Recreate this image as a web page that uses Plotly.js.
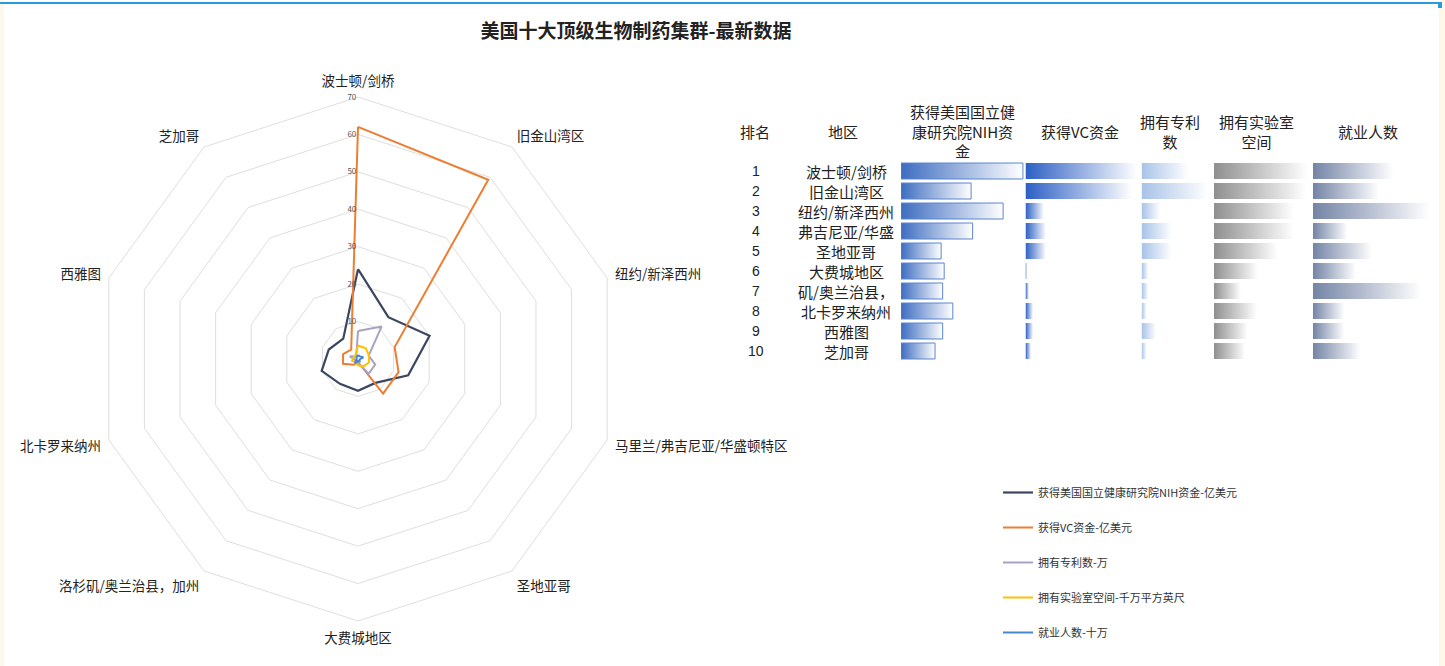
<!DOCTYPE html>
<html><head><meta charset="utf-8">
<script src="https://cdn.plot.ly/plotly-3.0.1.min.js"></script>
<style>html,body{margin:0;padding:0;background:#fff;} #chart{width:1445px;height:666px;}</style>
</head><body><div id="chart"></div>
<script>
// ---------- data ----------
const regions = ['波士顿/剑桥','旧金山湾区','纽约/新泽西州','马里兰/弗吉尼亚/华盛顿特区','圣地亚哥','大费城地区','洛杉矶/奥兰治县，加州','北卡罗来纳州','西雅图','芝加哥'];
const tableNames = ['波士顿/剑桥','旧金山湾区','纽约/新泽西州','弗吉尼亚/华盛','圣地亚哥','大费城地区','矶/奥兰治县，','北卡罗来纳州','西雅图','芝加哥'];
const ranks = [1,2,3,4,5,6,7,8,9,10];
const nihFunding = [24, 13.8, 20.1, 14.1, 7.9, 8.5, 8.2, 10.2, 8.2, 6.7];
const vcFunding  = [62, 59.2, 10.3, 11.4, 11.4, 0.8, 1.9, 4.2, 4.2, 3.1];
const patents    = [7.5, 10.7, 3.0, 4.85, 4.85, 1.1, 1.1, 0.8, 2.3, 0.8];
const labSpace   = [3.6, 3.54, 3.07, 3.07, 2.45, 1.69, 1.03, 1.65, 1.29, 1.19];
const employment = [1.03, 0.85, 1.5, 0.44, 0.76, 0.55, 1.39, 0.40, 0.40, 0.61];
const seriesNames = ['获得美国国立健康研究院NIH资金-亿美元','获得VC资金-亿美元','拥有专利数-万','拥有实验室空间-千万平方英尺','就业人数-十万'];
const tableHeaders = ['排名','地区','获得美国国立健<br>康研究院NIH资<br>金','获得VC资金','拥有专利<br>数','拥有实验室<br>空间','就业人数'];
const radialTicks = [10,20,30,40,50,60,70];
const chartTitle = '美国十大顶级生物制药集群-最新数据';

// ---------- styles ----------
const W = 1445, H = 666;
const px = v => v / W, py = v => 1 - v / H;
const FONT = '"Noto Sans CJK SC", "Noto Sans", sans-serif';
const lineColors = ['#3b4660','#ed7d31','#a8a2c4','#ffc000','#4a86d0'];
const allSeries = [nihFunding, vcFunding, patents, labSpace, employment];

const traces = [];
allSeries.forEach((vals, k) => {
  traces.push({
    type:'scatterpolar', mode:'lines', subplot:'polar',
    r: vals.concat([vals[0]]), theta: regions.concat([regions[0]]),
    name: seriesNames[k], legendgroup:'g'+k,
    line:{color: lineColors[k], width: k===0 ? 2.2 : 2},
    hoverinfo:'skip'
  });
});

// table columns: start px, px per unit, gradient colour, border
const cols = [
  {start:901,  end:1024, ppu:5.08,  color:'#3d6cc0', border:'#5a86cf'},
  {start:1025.5, end:1138, ppu:1.8,   color:'#2c5fc4', border:null},
  {start:1141.6, end:1210, ppu:6.19,  color:'#a7c2e8', border:null},
  {start:1214, end:1309, ppu:25.97, color:'#8f8f8f', border:null},
  {start:1313, end:1432, ppu:77.8,  color:'#7484a6', border:null}
];
allSeries.forEach((vals, c) => {
  const ax = c===0 ? 'x' : 'x'+(c+1);
  vals.forEach((v, i) => {
    const r = ranks[i];
    traces.push({
      type:'scatter', xaxis: ax, yaxis:'y',
      x:[0, v, v, 0, 0], y:[r-0.4, r-0.4, r+0.4, r+0.4, r-0.4],
      fill:'toself', mode: cols[c].border ? 'lines' : 'none',
      line:{width:1, color: cols[c].border || 'rgba(0,0,0,0)'},
      fillgradient:{type:'horizontal', colorscale:[[0, cols[c].color],[1,'#ffffff']]},
      fillcolor: cols[c].color,
      showlegend:false, hoverinfo:'skip'
    });
  });
});

const layout = {
  width: W, height: H,
  margin:{l:0,r:0,t:0,b:0},
  paper_bgcolor:'#ffffff', plot_bgcolor:'rgba(0,0,0,0)',
  font:{family: FONT, color:'#222'},
  title:{text: chartTitle, x: px(636), xanchor:'center', y: py(31), yanchor:'middle',
         font:{size:19, color:'#222', weight:'bold'}},
  showlegend:true,
  legend:{x: px(998), y: py(478), xanchor:'left', yanchor:'top', traceorder:'grouped',
          tracegroupgap: 16, font:{size:11, color:'#333'}, itemwidth:30, bgcolor:'rgba(0,0,0,0)'},
  polar:{
    domain:{x:[px(96), px(620)], y:[py(621), py(97)]},
    bgcolor:'rgba(0,0,0,0)', gridshape:'linear',
    radialaxis:{range:[0,70], tickvals: radialTicks, angle:90, tickangle:90, side:'counterclockwise',
                showline:false, gridcolor:'#dedede', gridwidth:1, ticks:'',
                tickfont:{size:8, color:'#555'}},
    angularaxis:{direction:'clockwise', rotation:90, showgrid:false, showline:true,
                 linecolor:'#dedede', linewidth:1, ticks:'outside', ticklen:5, tickcolor:'rgba(0,0,0,0)',
                 tickfont:{size:13.5, color:'#222'}}
  },
  yaxis:{domain:[py(361), py(161)], range:[10.5, 0.5], visible:false, fixedrange:true},
  annotations:[], shapes:[]
};
cols.forEach((c, k) => {
  const key = k===0 ? 'xaxis' : 'xaxis'+(k+1);
  layout[key] = {domain:[px(c.start), px(c.end)], range:[0, (c.end - c.start)/c.ppu],
                 visible:false, fixedrange:true, anchor:'y'};
});

// table headers
const headerX = [755, 843, 962, 1080, 1170, 1256, 1368];
tableHeaders.forEach((t, k) => {
  layout.annotations.push({xref:'paper', yref:'paper', x: px(headerX[k]), y: py(131),
    xanchor:'center', yanchor:'middle', text: t, showarrow:false, align:'center',
    font:{size:15, color:'#222'}});
});
ranks.forEach((r, i) => {
  layout.annotations.push({xref:'paper', yref:'y', x: px(756), y: r, xanchor:'center', yanchor:'middle',
    text: String(r), showarrow:false, font:{size:14, color:'#222', family:'"Liberation Sans", Arial, sans-serif'}});
  layout.annotations.push({xref:'paper', yref:'y', x: px(846), y: r, xanchor:'center', yanchor:'middle',
    text: tableNames[i], showarrow:false, font:{size:15, color:'#222'}});
});

// frame
layout.shapes.push({type:'rect', xref:'paper', yref:'paper', x0:0, x1:px(4), y0:0, y1:1, fillcolor:'#fdf8ea', line:{width:0}, layer:'below'});
layout.shapes.push({type:'rect', xref:'paper', yref:'paper', x0:px(1439), x1:1, y0:0, y1:1, fillcolor:'#fdf8ea', line:{width:0}, layer:'below'});
layout.shapes.push({type:'line', xref:'paper', yref:'paper', x0:0, x1:px(1441), y0:py(3), y1:py(3), line:{color:'#2a9ad8', width:2}});
layout.shapes.push({type:'rect', xref:'paper', yref:'paper', x0:px(1438), x1:px(1442), y0:py(8), y1:py(2), fillcolor:'#2a9ad8', line:{width:0}});

Plotly.newPlot('chart', traces, layout, {displayModeBar:false, staticPlot:true});
</script></body></html>
